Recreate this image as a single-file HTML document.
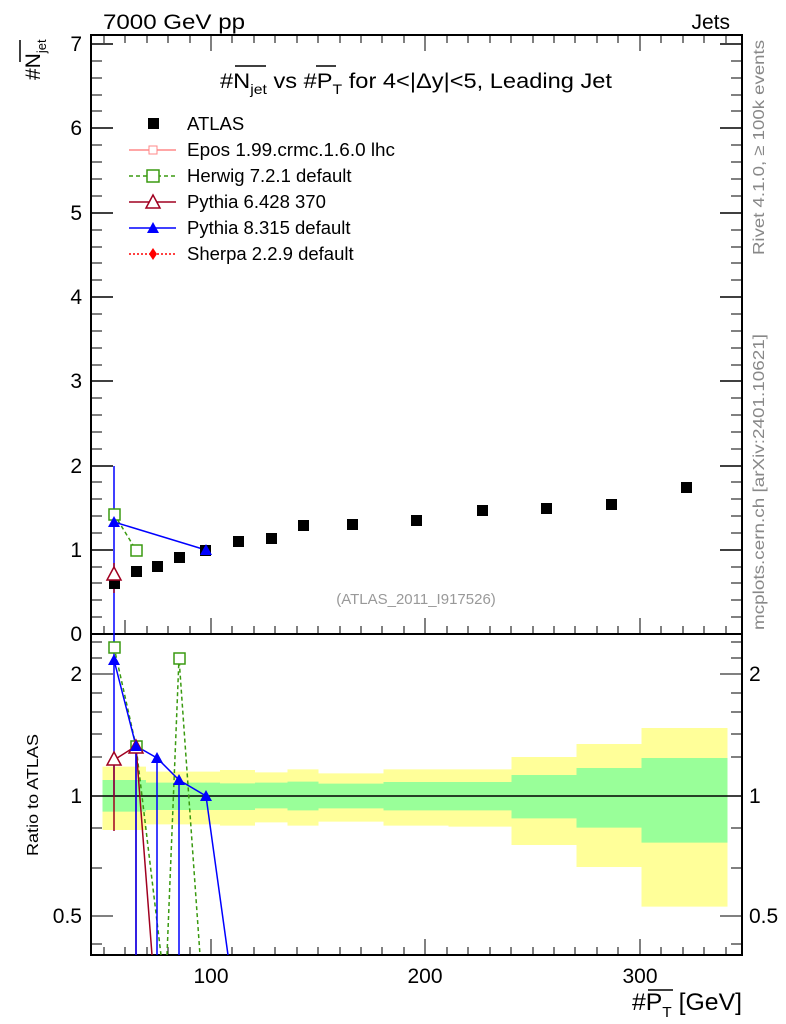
<!DOCTYPE html>
<html><head><meta charset="utf-8"><style>body{margin:0;background:#fff}svg{display:block;font-family:"Liberation Sans",sans-serif}</style></head><body>
<svg width="786" height="1024" viewBox="0 0 786 1024" xmlns="http://www.w3.org/2000/svg">
<g transform="translate(0,630) scale(0.5,0.33333)">
<path fill="#ffff99" d="M205,410H292V425H440V420H510V427H575V418H637V430H767V418H1023V381H1153V342H1283V294H1455V830H1283V711H1153V645H1023V590H897V587H767V575H637V587H575V577H510V587H440V583H292V600H205Z"/>
<path fill="#99ff99" d="M205,450H292V458H440V460H510V458H575V455H637V461H767V456H1023V435H1153V414H1283V384H1455V638H1283V593H1153V565H1023V541H767V535H637V541H575V535H510V540H440V540H292V545H205Z"/>
</g>
<line x1="91" y1="796" x2="742" y2="796" stroke="#000" stroke-width="1.5"/>
<rect x="91" y="35" width="651" height="599" fill="none" stroke="#000" stroke-width="2"/>
<rect x="91" y="634" width="651" height="321" fill="none" stroke="#000" stroke-width="2"/>
<g stroke="#000" stroke-width="1.5">
<line x1="91" y1="634" x2="113" y2="634"/><line x1="91" y1="550" x2="113" y2="550"/><line x1="91" y1="466" x2="113" y2="466"/><line x1="91" y1="381" x2="113" y2="381"/><line x1="91" y1="297" x2="113" y2="297"/><line x1="91" y1="213" x2="113" y2="213"/><line x1="91" y1="128" x2="113" y2="128"/><line x1="91" y1="44" x2="113" y2="44"/>
<line x1="720" y1="550" x2="742" y2="550"/><line x1="720" y1="466" x2="742" y2="466"/><line x1="720" y1="381" x2="742" y2="381"/><line x1="720" y1="297" x2="742" y2="297"/><line x1="720" y1="213" x2="742" y2="213"/><line x1="720" y1="128" x2="742" y2="128"/><line x1="720" y1="44" x2="742" y2="44"/>
</g>
<g stroke="#000" stroke-width="1">
<path d="M91,617h11M91,600h11M91,583h11M91,567h11M91,533h11M91,516h11M91,499h11M91,482h11M91,449h11M91,432h11M91,415h11M91,398h11M91,365h11M91,348h11M91,331h11M91,314h11M91,280h11M91,263h11M91,247h11M91,230h11M91,196h11M91,179h11M91,162h11M91,145h11M91,111h11M91,95h11M91,78h11M91,61h11"/>
<path d="M731,617h11M731,600h11M731,583h11M731,567h11M731,533h11M731,516h11M731,499h11M731,482h11M731,449h11M731,432h11M731,415h11M731,398h11M731,365h11M731,348h11M731,331h11M731,314h11M731,280h11M731,263h11M731,247h11M731,230h11M731,196h11M731,179h11M731,162h11M731,145h11M731,111h11M731,95h11M731,78h11M731,61h11"/>
<path d="M104,634v-8M125,634v-14M147,634v-8M168,634v-8M190,634v-8M211,634v-16M232,634v-8M254,634v-8M275,634v-8M297,634v-8M318,634v-8M340,634v-8M361,634v-8M382,634v-8M404,634v-8M425,634v-16M447,634v-8M468,634v-8M490,634v-8M511,634v-8M533,634v-8M554,634v-8M575,634v-8M597,634v-8M618,634v-8M640,634v-16M661,634v-8M683,634v-8M704,634v-8M726,634v-8"/>
<path d="M104,35v8M125,35v8M147,35v8M168,35v8M190,35v8M211,35v16M232,35v8M254,35v8M275,35v8M297,35v8M318,35v8M340,35v8M361,35v8M382,35v8M404,35v8M425,35v16M447,35v8M468,35v8M490,35v8M511,35v8M533,35v8M554,35v8M575,35v8M597,35v8M618,35v8M640,35v16M661,35v8M683,35v8M704,35v8M726,35v8"/>
<path d="M104,955v-8M125,955v-8M147,955v-8M168,955v-8M190,955v-8M211,955v-16M232,955v-8M254,955v-8M275,955v-8M297,955v-8M318,955v-8M340,955v-8M361,955v-8M382,955v-8M404,955v-8M425,955v-16M447,955v-8M468,955v-8M490,955v-8M511,955v-8M533,955v-8M554,955v-8M575,955v-8M597,955v-8M618,955v-8M640,955v-16M661,955v-8M683,955v-8M704,955v-8M726,955v-8"/>
<path d="M91,674h22M91,796h22M91,916h22M91,642h11M91,658h11M91,693h11M91,712h11M91,734h11M91,757h11M91,828h11M91,868h11M91,944h11"/>
<path d="M720,674h22M720,796h22M720,916h22M731,642h11M731,658h11M731,693h11M731,712h11M731,734h11M731,757h11M731,828h11M731,868h11M731,944h11"/>
</g>
<g font-size="21" fill="#000" text-anchor="end">
<text x="82" y="641">0</text><text x="82" y="557">1</text><text x="82" y="473">2</text><text x="82" y="388">3</text><text x="82" y="304">4</text><text x="82" y="220">5</text><text x="82" y="135">6</text><text x="82" y="51">7</text>
<text x="82" y="681">2</text><text x="82" y="803">1</text><text x="82" y="923">0.5</text>
</g>
<g font-size="21" fill="#000">
<text x="749" y="681">2</text><text x="749" y="803">1</text><text x="749" y="923">0.5</text>
</g>
<g font-size="21" fill="#000" text-anchor="middle">
<text x="211" y="983">100</text><text x="425" y="983">200</text><text x="640" y="983">300</text>
</g>
<text x="103" y="29" font-size="21" textLength="142" lengthAdjust="spacingAndGlyphs">7000 GeV pp</text>
<text x="730" y="29" font-size="21" text-anchor="end">Jets</text>
<text x="632" y="1010" font-size="24" textLength="110" lengthAdjust="spacingAndGlyphs">#P<tspan font-size="15" dy="7">T</tspan><tspan dy="-7"> [GeV]</tspan></text>
<line x1="648" y1="990" x2="673" y2="990" stroke="#000" stroke-width="1.5"/>
<text transform="translate(40,80) rotate(-90)" font-size="21">#N<tspan font-size="13" dy="6">jet</tspan></text>
<line x1="20" y1="40" x2="20" y2="62" stroke="#000" stroke-width="1.5"/>
<text transform="translate(38,856) rotate(-90)" font-size="16" textLength="122" lengthAdjust="spacingAndGlyphs">Ratio to ATLAS</text>
<text transform="translate(764,255) rotate(-90)" font-size="16" fill="#888" textLength="215" lengthAdjust="spacingAndGlyphs">Rivet 4.1.0, ≥ 100k events</text>
<text transform="translate(764,630) rotate(-90)" font-size="16" fill="#888" textLength="296" lengthAdjust="spacingAndGlyphs">mcplots.cern.ch [arXiv:2401.10621]</text>
<text x="416" y="604" font-size="15" fill="#999" text-anchor="middle">(ATLAS_2011_I917526)</text>
<text x="220" y="88" font-size="21" textLength="392" lengthAdjust="spacingAndGlyphs">#N<tspan font-size="14" dy="6">jet</tspan><tspan dy="-6"> vs #P</tspan><tspan font-size="14" dy="6">T</tspan><tspan dy="-6"> for 4&lt;|Δy|&lt;5, Leading Jet</tspan></text>
<line x1="235" y1="66" x2="266" y2="66" stroke="#000" stroke-width="1.5"/>
<line x1="316" y1="66" x2="336" y2="66" stroke="#000" stroke-width="1.5"/>
<g font-size="18.5">
<rect x="148" y="118" width="11" height="11" fill="#000"/><text x="187" y="130">ATLAS</text>
<line x1="129" y1="150" x2="176" y2="150" stroke="#f88" stroke-width="1.5"/><rect x="149" y="146" width="8" height="8" fill="#fff" stroke="#f88"/><text x="187" y="156" textLength="208" lengthAdjust="spacingAndGlyphs">Epos 1.99.crmc.1.6.0 lhc</text>
<line x1="129" y1="176" x2="176" y2="176" stroke="#3a9a10" stroke-width="1.5" stroke-dasharray="4,3"/><rect x="147" y="170" width="12" height="12" fill="#fff" stroke="#3a9a10" stroke-width="1.5"/><text x="187" y="182">Herwig 7.2.1 default</text>
<line x1="129" y1="202" x2="176" y2="202" stroke="#a00020" stroke-width="1.5"/><path d="M153,195L160,208H146Z" fill="#fff" stroke="#a00020" stroke-width="1.5"/><text x="187" y="208">Pythia 6.428 370</text>
<line x1="129" y1="228" x2="176" y2="228" stroke="#00f" stroke-width="1.5"/><path d="M153,222L159,233H147Z" fill="#00f"/><text x="187" y="234">Pythia 8.315 default</text>
<line x1="129" y1="254" x2="176" y2="254" stroke="#f00" stroke-width="1.5" stroke-dasharray="2,2"/><path d="M153,248L157,254L153,260L149,254Z" fill="#f00"/><text x="187" y="260">Sherpa 2.2.9 default</text>
</g>
<line x1="114" y1="466" x2="114" y2="634" stroke="#00f" stroke-width="1.5"/>
<line x1="114" y1="563" x2="114" y2="593" stroke="#a00020" stroke-width="1.5"/>
<polyline points="114,514 136,550" fill="none" stroke="#3a9a10" stroke-width="1.5" stroke-dasharray="4,3"/>
<rect x="109" y="509" width="11" height="11" fill="#fff" stroke="#3a9a10" stroke-width="1.5"/>
<rect x="131" y="545" width="11" height="11" fill="#fff" stroke="#3a9a10" stroke-width="1.5"/>
<polyline points="114,522 206,550" fill="none" stroke="#00f" stroke-width="1.5"/>
<g fill="#000">
<rect x="109" y="578" width="11" height="11"/><rect x="131" y="566" width="11" height="11"/><rect x="152" y="561" width="11" height="11"/><rect x="174" y="552" width="11" height="11"/><rect x="200" y="545" width="11" height="11"/><rect x="233" y="536" width="11" height="11"/><rect x="266" y="533" width="11" height="11"/><rect x="298" y="520" width="11" height="11"/><rect x="347" y="519" width="11" height="11"/><rect x="411" y="515" width="11" height="11"/><rect x="477" y="505" width="11" height="11"/><rect x="541" y="503" width="11" height="11"/><rect x="606" y="499" width="11" height="11"/><rect x="681" y="482" width="11" height="11"/>
</g>
<path d="M114,567L121,580H107Z" fill="#fff" stroke="#a00020" stroke-width="1.5"/>
<path d="M114,516L120,527H108Z" fill="#00f"/><path d="M206,544L212,555H200Z" fill="#00f"/>
<line x1="114" y1="634" x2="114" y2="796" stroke="#00f" stroke-width="1.5"/>
<line x1="114" y1="760" x2="114" y2="831" stroke="#a00020" stroke-width="1.5"/>
<polyline points="114,647 136,746 161,955" fill="none" stroke="#3a9a10" stroke-width="1.5" stroke-dasharray="4,3"/>
<polyline points="167,955 179,658 200,955" fill="none" stroke="#3a9a10" stroke-width="1.5" stroke-dasharray="4,3"/>
<polyline points="114,760 136,746 152,955" fill="none" stroke="#a00020" stroke-width="1.5"/>
<line x1="136" y1="746" x2="136" y2="955" stroke="#a00020" stroke-width="1.5"/>
<polyline points="114,660 136,746 157,758 179,780 206,796 228,955" fill="none" stroke="#00f" stroke-width="1.5"/>
<path d="M136,746V955M157,758V955M179,780V955" stroke="#00f" stroke-width="1.5"/>
<rect x="109" y="642" width="11" height="11" fill="#fff" stroke="#3a9a10" stroke-width="1.5"/>
<rect x="131" y="741" width="11" height="11" fill="#fff" stroke="#3a9a10" stroke-width="1.5"/>
<rect x="174" y="653" width="11" height="11" fill="#fff" stroke="#3a9a10" stroke-width="1.5"/>
<path d="M114,752L121,765H107Z" fill="#fff" stroke="#a00020" stroke-width="1.5"/>
<path d="M136,740L143,753H129Z" fill="#fff" stroke="#a00020" stroke-width="1.5"/>
<path d="M114,654L120,665H108Z M136,740L142,751H130Z M157,752L163,763H151Z M179,774L185,785H173Z M206,790L212,801H200Z" fill="#00f"/>
</svg>
</body></html>
